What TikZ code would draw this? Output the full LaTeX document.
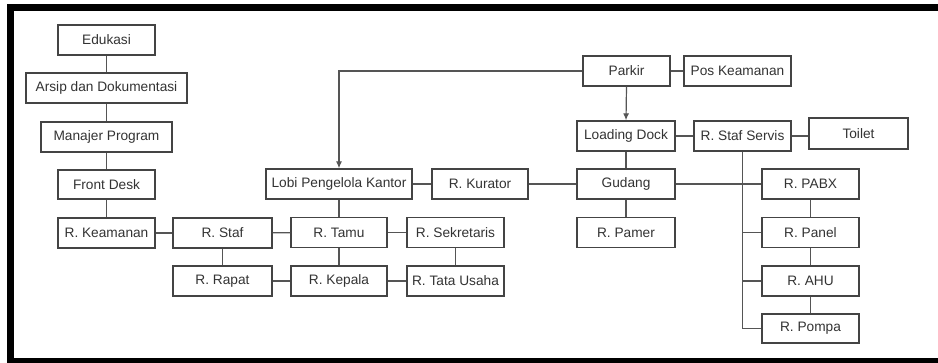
\documentclass[tikz,border=0pt]{standalone}
\usepackage{fontspec}
\setmainfont{Liberation Sans}
\usetikzlibrary{arrows.meta}
\definecolor{boxline}{HTML}{444444}
\definecolor{conn}{HTML}{555555}
\definecolor{txt}{HTML}{333333}
\begin{document}
\begin{tikzpicture}[x=1pt,y=-1pt,
  room/.style={draw=boxline, line width=1.3pt, fill=white, inner sep=0pt,
    minimum height=30pt, text=txt, font=\fontsize{13.7}{16}\selectfont},
  link/.style={draw=conn, line width=1.2pt},
  arr/.style={link, -{Latex[length=7pt,width=6pt]}}]
\useasboundingbox (0,0) rectangle (938,363);
\clip (0,0) rectangle (938,363);
\fill[white] (0,0) rectangle (938,363);
\draw[line width=7pt, black] (10,7.5) rectangle (950,361.5);

% left column
\node[room, minimum width=97pt]  (edu)    at (106.5,40)  {Edukasi};
\node[room, minimum width=161pt] (arsip)  at (106.5,88)  {Arsip dan Dokumentasi};
\node[room, minimum width=131pt] (manajer) at (106.5,137) {Manajer Program};
\node[room, minimum width=97pt, minimum height=29pt] (front) at (106.5,184.5) {Front Desk};
\node[room, minimum width=97pt]  (keam)   at (106.5,233) {R. Keamanan};
\node[room, minimum width=99pt]  (staf)   at (222.5,233) {R. Staf};
\node[room, minimum width=99pt]  (rapat)  at (222.5,281) {R. Rapat};
\node[room, minimum width=96pt]  (tamu)   at (339,232.5) {R. Tamu};
\node[room, minimum width=96pt]  (kepala) at (339,281)   {R. Kepala};
\node[room, minimum width=146pt] (lobi)   at (339,184)   {Lobi Pengelola Kantor};
\node[room, minimum width=96pt]  (kurator) at (480,184)  {R. Kurator};
\node[room, minimum width=97pt]  (sekr)   at (455.5,232.5) {R. Sekretaris};
\node[room, minimum width=97pt]  (tata)   at (455.5,281) {R. Tata Usaha};

% right part
\node[room, minimum width=87pt]  (parkir) at (626.5,71)  {Parkir};
\node[room, minimum width=107pt] (pos)    at (737.5,71)  {Pos Keamanan};
\node[room, minimum width=98pt]  (loading) at (626,136)  {Loading Dock};
\node[room, minimum width=97pt]  (servis) at (742.5,136) {R. Staf Servis};
\node[room, minimum width=99pt, minimum height=31pt] (toilet) at (858.5,133.5) {Toilet};
\node[room, minimum width=98pt]  (gudang) at (626,184)   {Gudang};
\node[room, minimum width=98pt]  (pamer)  at (626,232.5) {R. Pamer};
\node[room, minimum width=97pt]  (pabx)   at (810.5,184) {R. PABX};
\node[room, minimum width=97pt]  (panel)  at (810.5,232.5) {R. Panel};
\node[room, minimum width=97pt]  (ahu)    at (810.5,281) {R. AHU};
\node[room, minimum width=97pt, minimum height=29pt] (pompa) at (810.5,328.5) {R. Pompa};

% connectors
\draw[link] (edu) -- (arsip);
\draw[link] (arsip) -- (manajer);
\draw[link] (manajer) -- (front);
\draw[link] (front) -- (keam);
\draw[link] (keam) -- (staf);
\draw[link] (staf) -- (tamu);
\draw[link] (staf) -- (rapat);
\draw[link] (rapat) -- (kepala);
\draw[link] (tamu) -- (kepala);
\draw[link] (tamu) -- (sekr);
\draw[link] (kepala) -- (tata);
\draw[link] (sekr) -- (tata);
\draw[link] (lobi) -- (tamu);
\draw[link] (lobi) -- (kurator);
\draw[link] (kurator) -- (gudang);
\draw[arr] (parkir.west) -| (lobi.north);
\draw[link] (parkir) -- (pos);
\draw[arr] (parkir.south) -- (loading.north);
\draw[link] (loading) -- (servis);
\draw[link] (servis.east) -- (servis.east -| toilet.west);
\draw[link] (loading) -- (gudang);
\draw[link] (gudang) -- (pamer);
\draw[link] (gudang) -- (pabx);
\draw[link] (servis.south) -- (servis.south |- pompa.west) -- (pompa.west);
\draw[link] (servis.south |- panel.west) -- (panel.west);
\draw[link] (servis.south |- ahu.west) -- (ahu.west);
\draw[link] (pabx) -- (panel);
\draw[link] (panel) -- (ahu);
\draw[link] (ahu) -- (pompa);
\end{tikzpicture}
\end{document}
